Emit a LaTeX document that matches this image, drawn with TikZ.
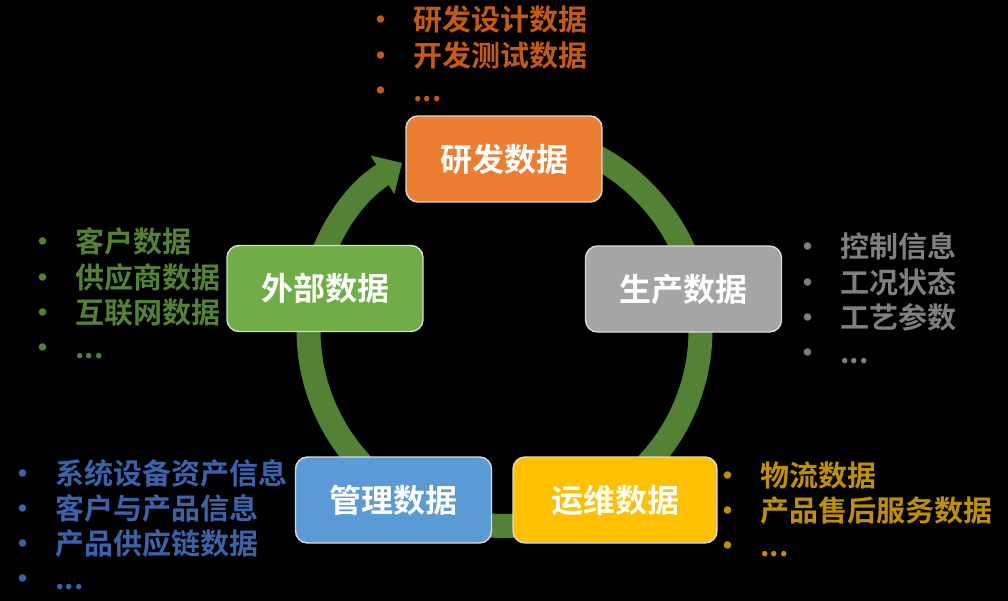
\documentclass[tikz,border=0pt]{standalone}
\usepackage{fontspec}
\setmainfont{Noto Sans CJK SC}[BoldFont=* Bold]
\usepackage{tikz}
\usetikzlibrary{arrows.meta}
\definecolor{ringgreen}{HTML}{548235}
\definecolor{boxorange}{HTML}{ED7D31}
\definecolor{boxgrey}{HTML}{A5A5A5}
\definecolor{boxyellow}{HTML}{FFC000}
\definecolor{boxblue}{HTML}{5B9BD5}
\definecolor{boxgreen}{HTML}{70AD47}
\definecolor{txtorange}{HTML}{C55A11}
\definecolor{txtgrey}{HTML}{7F7F7F}
\definecolor{txtyellow}{HTML}{BF9000}
\definecolor{txtblue}{HTML}{3C63AA}
\definecolor{txtgreen}{HTML}{548235}
\newcommand\bul{\llap{\makebox[64pt][c]{•}}}

\begin{document}
\begin{tikzpicture}[
  x=1pt,y=-1pt,
  every node/.style={font=\bfseries},
  databox/.style={draw=white!85!black,line width=1.4pt,rounded corners=12pt,minimum width=196pt,minimum height=86pt,text=white,font=\fontsize{32}{32}\selectfont\bfseries,inner sep=0pt},
  itemlist/.style={anchor=base west,inner sep=0pt,font=\fontsize{29}{35}\selectfont\bfseries},
  ring/.style={ringgreen,line width=24pt,-{Triangle[length=23pt,width=44pt]}}
]
\fill[black] (0,0) rectangle (1008,601);
\useasboundingbox (0,0) rectangle (1008,601);
% circular flow behind the boxes
\coordinate (hub) at (504.5,330);
\draw[ring] ([shift={(-90:196)}]hub) arc[start angle=-90,end angle=238.5,radius=196];
% data boxes
\node[databox,fill=boxorange] (rnd) at (504,159) {研发数据};
\node[databox,fill=boxgrey] (prod) at (683.5,289) {生产数据};
\node[databox,fill=boxyellow,minimum width=204pt] (ops) at (615,500) {运维数据};
\node[databox,fill=boxblue] (mgmt) at (393.5,500) {管理数据};
\node[databox,fill=boxgreen] (ext) at (325,288.5) {外部数据};
% item lists
\node[itemlist,text=txtorange] (rndList) at (413,31) {\begin{tabular}[t]{@{}l@{}}\bul 研发设计数据\\ \bul 开发测试数据\\ \bul ...\end{tabular}};
\node[itemlist,text=txtgrey] (prodList) at (840,258) {\begin{tabular}[t]{@{}l@{}}\bul 控制信息\\ \bul 工况状态\\ \bul 工艺参数\\ \bul ...\end{tabular}};
\node[itemlist,text=txtyellow] (opsList) at (760,486) {\begin{tabular}[t]{@{}l@{}}\bul 物流数据\\ \bul 产品售后服务数据\\ \bul ...\end{tabular}};
\node[itemlist,text=txtblue] (mgmtList) at (55,484) {\begin{tabular}[t]{@{}l@{}}\bul 系统设备资产信息\\ \bul 客户与产品信息\\ \bul 产品供应链数据\\ \bul ...\end{tabular}};
\node[itemlist,text=txtgreen] (extList) at (75,253) {\begin{tabular}[t]{@{}l@{}}\bul 客户数据\\ \bul 供应商数据\\ \bul 互联网数据\\ \bul ...\end{tabular}};
\end{tikzpicture}
\end{document}
